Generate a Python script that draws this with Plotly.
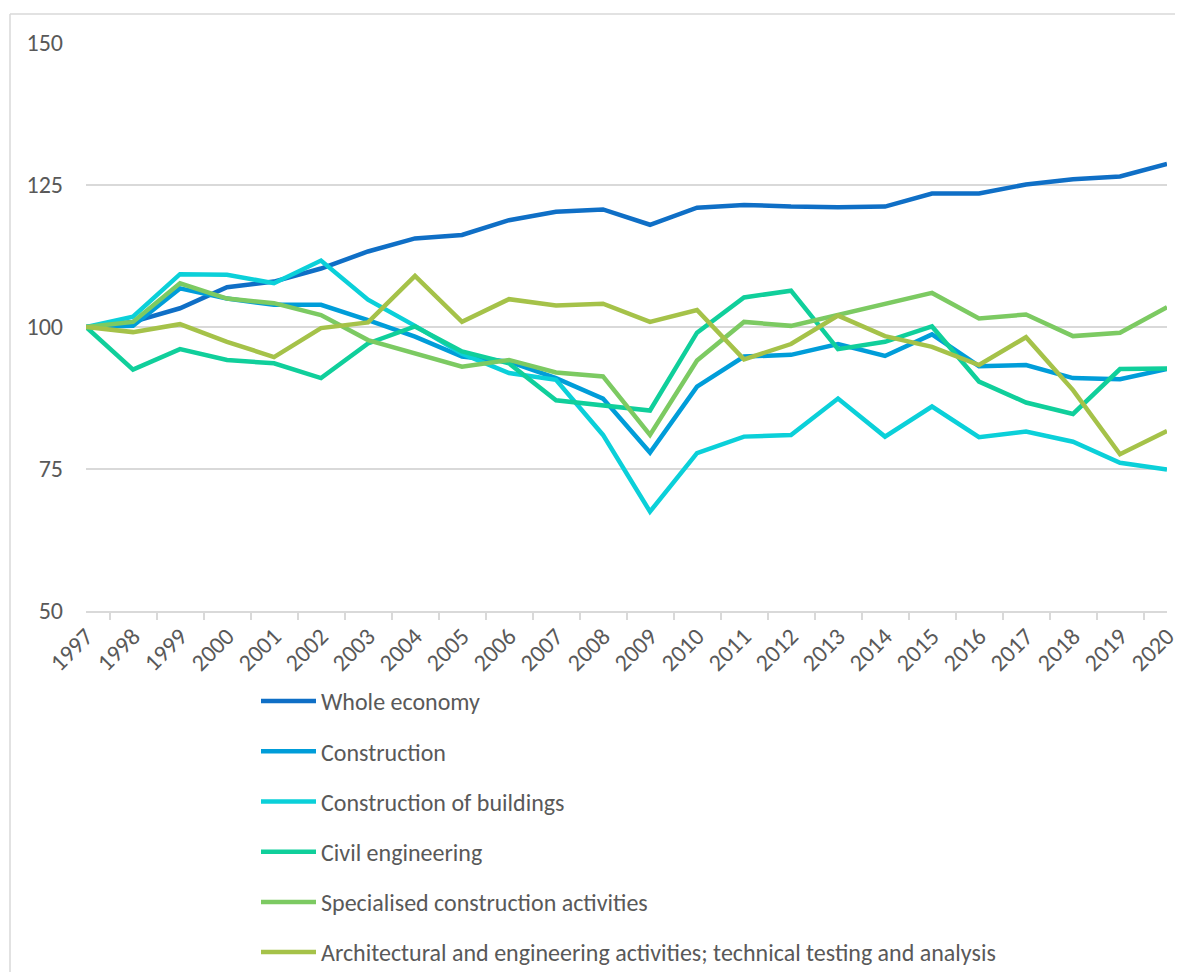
import plotly.graph_objects as go

YEARS = [str(y) for y in range(1997, 2021)]

WHOLE_ECONOMY = [100, 100.9, 103.3, 107.0, 108.0, 110.3, 113.3, 115.6, 116.2, 118.8, 120.3, 120.7,
                 118.0, 121.0, 121.5, 121.2, 121.1, 121.2, 123.5, 123.5, 125.1, 126.0, 126.5, 128.7]
CONSTRUCTION = [100, 100.2, 106.8, 105.0, 103.9, 103.9, 101.2, 98.3, 94.8, 93.9, 91.0, 87.4,
                77.9, 89.5, 94.8, 95.1, 97.0, 94.9, 98.7, 93.1, 93.3, 91.0, 90.8, 92.6]
BUILDINGS = [100, 101.8, 109.3, 109.2, 107.7, 111.7, 104.8, 100.2, 95.3, 91.9, 90.7, 81.0,
             67.5, 77.8, 80.7, 81.0, 87.4, 80.7, 86.0, 80.6, 81.6, 79.8, 76.1, 74.9]
CIVIL = [100, 92.5, 96.1, 94.2, 93.6, 91.0, 97.1, 100.1, 95.7, 93.6, 87.1, 86.3,
         85.3, 99.0, 105.2, 106.4, 96.1, 97.4, 100.1, 90.4, 86.7, 84.7, 92.6, 92.7]
SPECIALISED = [100, 100.9, 107.7, 105.0, 104.2, 102.1, 97.7, 95.4, 93.0, 94.2, 92.0, 91.3,
               81.0, 94.1, 100.9, 100.2, 102.1, 104.0, 106.0, 101.5, 102.2, 98.4, 99.0, 103.5]
ARCHITECTURAL = [100, 99.1, 100.5, 97.4, 94.7, 99.8, 100.8, 109.0, 100.9, 104.9, 103.8, 104.1,
                 100.9, 103.0, 94.3, 97.0, 102.0, 98.4, 96.5, 93.3, 98.2, 88.9, 77.6, 81.7]

SERIES = [
    ("Whole economy", WHOLE_ECONOMY, "#0F6FC6"),
    ("Construction", CONSTRUCTION, "#009DD9"),
    ("Construction of buildings", BUILDINGS, "#0BD0D9"),
    ("Civil engineering", CIVIL, "#10CF9B"),
    ("Specialised construction activities", SPECIALISED, "#7CCA62"),
    ("Architectural and engineering activities; technical testing and analysis", ARCHITECTURAL, "#A5C249"),
]

FONT = "Calibri, Carlito, Lato, sans-serif"
GRID = "#D9D9D9"
TEXT = "#595959"

fig = go.Figure()
for i, (name, values, color) in enumerate(SERIES):
    fig.add_trace(
        go.Scatter(
            x=YEARS,
            y=values,
            mode="lines",
            name=name,
            legendgroup=f"g{i}",
            line=dict(color=color, width=4.5),
        )
    )

# page body has an 8px margin, so the figure is sized/placed in its own coords
W, H = 1175, 964
ml, mr, mt, mb = 78, 16, 35, 361
pw, ph = W - ml - mr, H - mt - mb
bottom = H - mb  # plot bottom in figure px

# chart frame: only top and left edges fall inside the picture
frame_x = (2 - ml) / pw
frame_top = (bottom - 6) / ph
frame = [
    dict(type="line", xref="paper", yref="paper", x0=frame_x, x1=(1230 - ml) / pw,
         y0=frame_top, y1=frame_top, line=dict(color=GRID, width=1.5), layer="below"),
    dict(type="line", xref="paper", yref="paper", x0=frame_x, x1=frame_x,
         y0=(bottom - 1000) / ph, y1=frame_top, line=dict(color=GRID, width=1.5), layer="below"),
]

fig.update_layout(
    width=W,
    height=H,
    margin=dict(l=ml, r=mr, t=mt, b=mb, autoexpand=False),
    plot_bgcolor="white",
    paper_bgcolor="white",
    font=dict(family=FONT, size=24, color=TEXT),
    showlegend=True,
    legend=dict(
        x=(248 - ml) / pw,
        xanchor="left",
        y=(bottom - 671) / ph,
        yanchor="top",
        orientation="v",
        tracegroupgap=16,
        itemwidth=55,
        font=dict(family=FONT, size=24, color=TEXT),
        bgcolor="rgba(0,0,0,0)",
    ),
    xaxis=dict(
        type="category",
        tickangle=-45,
        tickson="boundaries",
        ticks="outside",
        ticklen=7,
        tickcolor=GRID,
        tickwidth=1.5,
        showline=True,
        linecolor=GRID,
        linewidth=1.5,
        showgrid=False,
        tickfont=dict(family=FONT, size=24, color=TEXT),
    ),
    yaxis=dict(
        range=[50, 150],
        tick0=50,
        dtick=25,
        showgrid=True,
        gridcolor=GRID,
        gridwidth=1.5,
        zeroline=False,
        showline=False,
        ticks="",
        ticklabelstandoff=22,
        tickfont=dict(family=FONT, size=24, color=TEXT),
    ),
    shapes=frame,
)

fig.write_html("out.html")
